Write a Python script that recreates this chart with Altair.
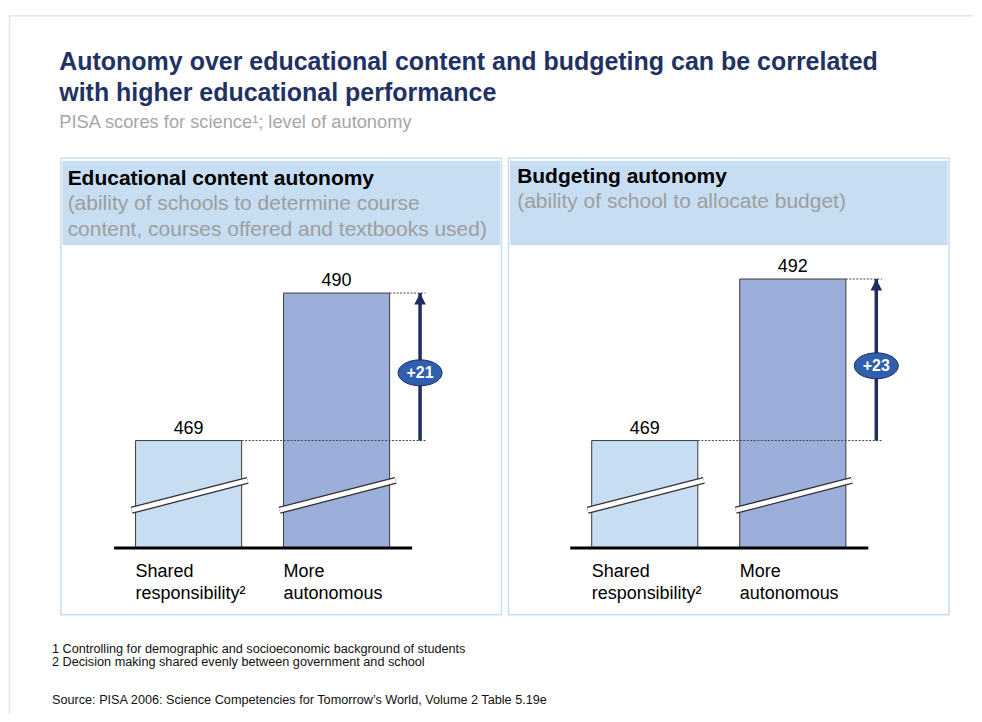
import math
import altair as alt
import pandas as pd

# ---------------- data ----------------
categories = ["Shared responsibility", "More autonomous"]
label_line1 = ["Shared", "More"]
label_line2 = ["responsibility²", "autonomous"]
content_scores = [469, 490]
budget_scores = [469, 492]

panel_titles = ["Educational content autonomy", "Budgeting autonomy"]
panel_notes = [
    ["(ability of schools to determine course", "content, courses offered and textbooks used)"],
    ["(ability of school to allocate budget)"],
]
title_lines = [
    "Autonomy over educational content and budgeting can be correlated",
    "with higher educational performance",
]
subtitle_text = "PISA scores for science¹; level of autonomy"
footnotes = [
    "1 Controlling for demographic and socioeconomic background of students",
    "2 Decision making shared evenly between government and school",
]
source_text = "Source: PISA 2006: Science Competencies for Tomorrow’s World, Volume 2 Table 5.19e"

# ---------------- style ----------------
FONT = "Liberation Sans"
NAVY = "#1E3264"
ARROW = "#1F2C5E"
ELLIPSE = "#2F5FAD"
LIGHT = "#C6DDF2"
MID = "#9BAFDA"
BORDER = "#C6DDF2"
GREY_TXT = "#9E9E9E"
SUB_GREY = "#A6A6A6"

W, H = 441, 457
AXIS_BASE = 453.7            # broken value axis starts here
Y_DOMAIN = [444.2, 509.2]
PAD_INNER = 0.283

one = pd.DataFrame({"k": [0]})


def ellipse_path(ratio=0.59, n=48):
    pts = []
    for i in range(n):
        t = 2 * math.pi * i / n
        pts.append(f"{math.cos(t):.4f},{ratio * math.sin(t):.4f}")
    return "M" + "L".join(pts) + "Z"


def txt(s, x, y, size, color="#000", weight="normal", align="left", baseline="alphabetic"):
    return alt.Chart(one).mark_text(
        font=FONT, fontSize=size, color=color, fontWeight=weight, align=align, baseline=baseline
    ).encode(x=alt.value(x), y=alt.value(y), text=alt.value(s))


def panel(scores, title, notes, x0, x1, hx, hy, first=False):
    df = pd.DataFrame({"cat": categories, "score": scores, "l1": label_line1, "l2": label_line2})
    ann = pd.DataFrame({"low": [scores[0]], "high": [scores[1]]})
    ann["mid"] = (ann["low"] + ann["high"]) / 2
    ann["diff"] = "+" + (ann["high"] - ann["low"]).astype(str)

    xs = alt.Scale(domain=categories, range=[x0, x1], paddingInner=PAD_INNER, paddingOuter=0)
    ys = alt.Scale(domain=Y_DOMAIN, nice=False, zero=False)
    step = (x1 - x0) / (2 - PAD_INNER)
    bw = step * (1 - PAD_INNER)
    bar_edges = [(x0, x0 + bw), (x1 - bw, x1)]
    arrow_x = x1 + 30.5

    def X(**kw):
        return alt.X("cat:N", scale=xs, axis=None, **kw)

    def Y(f):
        return alt.Y(f, scale=ys, axis=None)

    layers = []
    if first:
        # white card with its light border
        layers.append(alt.Chart(one).mark_rect(fill="white").encode(
            x=alt.value(-53), x2=alt.value(913), y=alt.value(-149.5), y2=alt.value(556.5)))
        layers.append(alt.Chart(one).mark_rule(color="#E4E4E4", strokeWidth=1.5).encode(
            x=alt.value(-51.5), x2=alt.value(913), y=alt.value(-142.5)))
        layers.append(alt.Chart(one).mark_rule(color="#E4E4E4", strokeWidth=1.5).encode(
            x=alt.value(-51.5), y=alt.value(-142.5), y2=alt.value(556.5)))
        layers.append(txt(title_lines[0], -1.7, -88.2, 25, NAVY, "bold"))
        layers.append(txt(title_lines[1], -1.7, -57.5, 25, NAVY, "bold"))
        layers.append(txt(subtitle_text, -1.7, -30.2, 18.3, SUB_GREY))
        layers.append(txt(footnotes[0], -9, 495.5, 12.7, "#111"))
        layers.append(txt(footnotes[1], -9, 508.5, 12.7, "#111"))
        layers.append(txt(source_text, -9, 546.5, 12.7, "#111"))

    # panel box and header band
    layers.append(alt.Chart(one).mark_rect(fill="white", stroke=BORDER, strokeWidth=1.5).encode(
        x=alt.value(0), x2=alt.value(W), y=alt.value(0), y2=alt.value(H)))
    layers.append(alt.Chart(one).mark_rect(fill=LIGHT).encode(
        x=alt.value(1.5), x2=alt.value(W - 1.5), y=alt.value(2.5), y2=alt.value(86.8)))
    layers.append(txt(title, hx, hy, 21, "#000", "bold"))
    for i, line in enumerate(notes):
        layers.append(txt(line, hx, hy + 24.7 + 26 * i, 21, GREY_TXT))

    # bars
    layers.append(alt.Chart(df).mark_bar(stroke="#3A3A3A", strokeWidth=1).encode(
        x=X(), y=Y("score:Q"), y2=alt.datum(AXIS_BASE),
        color=alt.Color("cat:N", scale=alt.Scale(domain=categories, range=[LIGHT, MID]), legend=None),
    ))
    # axis-break slashes
    for (bl, br) in bar_edges:
        for w, c in [(7.2, "#333333"), (4.6, "white")]:
            layers.append(alt.Chart(one).mark_rule(color=c, strokeWidth=w, strokeCap="butt").encode(
                x=alt.value(bl - 4), x2=alt.value(br + 6), y=alt.value(352.5), y2=alt.value(322.5)))
    # baseline
    layers.append(alt.Chart(one).mark_rule(color="#000", strokeWidth=3).encode(
        x=alt.value(x0 - 21.5), x2=alt.value(x1 + 22.5),
        y=alt.YDatum(AXIS_BASE, scale=ys, axis=None)))
    # dotted reference lines
    layers.append(alt.Chart(ann).mark_rule(color="#444", strokeWidth=1, strokeDash=[2, 1.5]).encode(
        x=alt.value(bar_edges[0][1]), x2=alt.value(arrow_x + 5.5), y=Y("low:Q")))
    layers.append(alt.Chart(ann).mark_rule(color="#444", strokeWidth=1, strokeDash=[2, 1.5]).encode(
        x=alt.value(x1), x2=alt.value(arrow_x + 5.5), y=Y("high:Q")))
    # difference arrow
    layers.append(alt.Chart(ann).mark_rule(color=ARROW, strokeWidth=3.5).encode(
        x=alt.value(arrow_x), y=Y("low:Q"), y2=alt.Y2("high:Q")))
    layers.append(alt.Chart(ann).mark_point(
        shape="M0,0L1,2L-1,2Z", filled=True, size=132, color=ARROW, opacity=1).encode(
        x=alt.value(arrow_x), y=Y("high:Q")))
    layers.append(alt.Chart(ann).mark_point(
        shape=ellipse_path(), filled=True, size=1936, fill=ELLIPSE, stroke=ARROW,
        strokeWidth=1, opacity=1, yOffset=6).encode(
        x=alt.value(arrow_x), y=Y("mid:Q")))
    layers.append(alt.Chart(ann).mark_text(
        font=FONT, fontSize=16, fontWeight="bold", color="white", align="center",
        baseline="middle", dy=6).encode(
        x=alt.value(arrow_x), y=Y("mid:Q"), text="diff:N"))
    # value labels
    layers.append(alt.Chart(df).mark_text(
        font=FONT, fontSize=18, color="#000", align="center", baseline="alphabetic", dy=-7).encode(
        x=X(), y=Y("score:Q"), text="score:Q"))
    # category labels
    layers.append(alt.Chart(df).mark_text(
        font=FONT, fontSize=18, color="#000", align="left", baseline="alphabetic").encode(
        x=X(bandPosition=0), y=alt.value(419.5), text="l1:N"))
    layers.append(alt.Chart(df).mark_text(
        font=FONT, fontSize=18, color="#000", align="left", baseline="alphabetic").encode(
        x=X(bandPosition=0), y=alt.value(440.8), text="l2:N"))

    return alt.layer(*layers).properties(width=W, height=H)


left = panel(content_scores, panel_titles[0], panel_notes[0], 74.7, 329.0, 6.7, 26.8, first=True)
right = panel(budget_scores, panel_titles[1], panel_notes[1], 83.3, 337.7, 8.7, 25.0)

chart = (
    alt.hconcat(left, right, spacing=7, bounds="flush")
    .resolve_scale(x="independent", y="independent", color="independent")
    .properties(padding=0, background="white")
    .configure_view(strokeWidth=0)
)

chart.save("out.html", embed_options={"renderer": "svg", "actions": False})
